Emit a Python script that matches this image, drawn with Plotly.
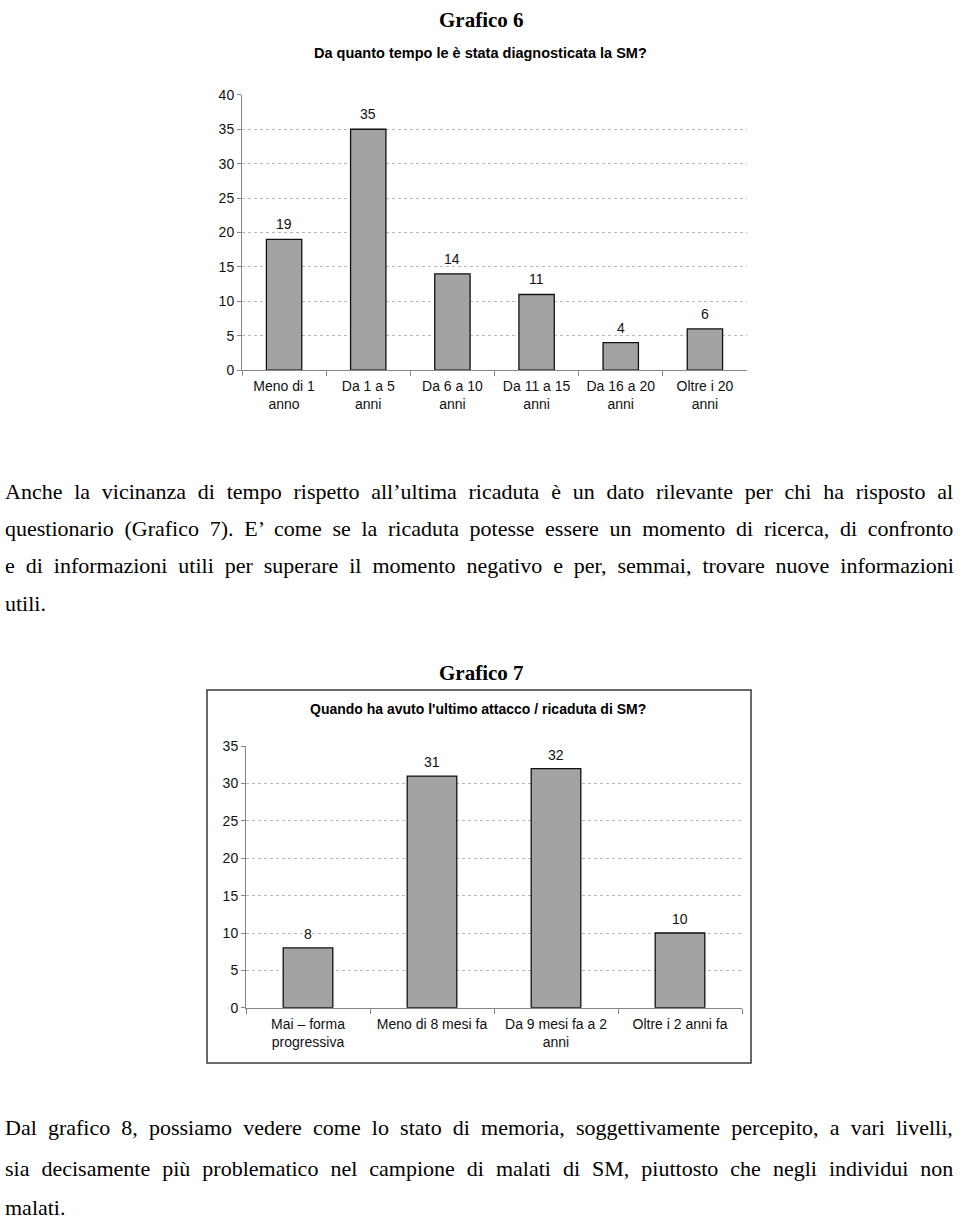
import plotly.graph_objects as go

W, H = 960, 1223

# ---- data ----
cat6 = ["Meno di 1<br>anno", "Da 1 a 5<br>anni", "Da 6 a 10<br>anni",
        "Da 11 a 15<br>anni", "Da 16 a 20<br>anni", "Oltre i 20<br>anni"]
val6 = [19, 35, 14, 11, 4, 6]

cat7 = ["Mai – forma<br>progressiva", "Meno di 8 mesi fa",
        "Da 9 mesi fa a 2<br>anni", "Oltre i 2 anni fa"]
val7 = [8, 31, 32, 10]

para1 = [
    "Anche la vicinanza di tempo rispetto all’ultima ricaduta è un dato rilevante per chi ha risposto al",
    "questionario (Grafico 7). E’ come se la ricaduta potesse essere un momento di ricerca, di confronto",
    "e di informazioni utili per superare il momento negativo e per, semmai, trovare nuove informazioni",
    "utili.",
]
para2 = [
    "Dal grafico 8, possiamo vedere come lo stato di memoria, soggettivamente percepito, a vari livelli,",
    "sia decisamente più problematico nel campione di malati di SM, piuttosto che negli individui non",
    "malati.",
]
# extra pixels needed to justify each line (style only)
just1 = [100, 78, 76, 0]
just2 = [79, 91, 0]


def justify(line, extra):
    """Spread `extra` px evenly over the word gaps using a sized no-break space
    (a space is 0.25 em wide in a Times-metric font)."""
    words = line.split(" ")
    gaps = len(words) - 1
    if gaps <= 0 or extra <= 0:
        return line
    per_gap = extra / gaps
    fs = per_gap * 4.0
    pad = '<span style="font-size:%.2fpx">\u00a0</span>' % fs
    return (" " + pad).join(words)


def px_x(p):
    return p / W


def px_y(p):
    return 1 - p / H


BAR = "#a3a3a3"
AX = "#868686"
GRID = "#b8b8b8"
SANS = "Liberation Sans, Arial, sans-serif"
SERIF = "Liberation Serif, Times New Roman, serif"
TF = 14

fig = go.Figure()
fig.add_trace(go.Bar(x=cat6, y=val6, xaxis="x", yaxis="y", width=0.42,
                     marker=dict(color=BAR, line=dict(color="#111", width=1.3)),
                     hoverinfo="skip"))
fig.add_trace(go.Bar(x=cat7, y=val7, xaxis="x2", yaxis="y2", width=0.40,
                     marker=dict(color=BAR, line=dict(color="#111", width=1.3)),
                     hoverinfo="skip"))

xcommon = dict(showgrid=False, showline=True, linecolor=AX, linewidth=1,
               ticks="outside", tickson="boundaries", ticklen=5, tickcolor=AX,
               ticklabelstandoff=3,
               tickfont=dict(family=SANS, size=TF, color="#111"), fixedrange=True)
ycommon = dict(showgrid=True, gridcolor=GRID, griddash="dot", gridwidth=1,
               showline=True, linecolor=AX, linewidth=1, ticks="outside",
               ticklen=4, tickcolor=AX, zeroline=False, dtick=5,
               tickfont=dict(family=SANS, size=TF, color="#111"), fixedrange=True)

fig.update_layout(
    width=W, height=H, margin=dict(l=0, r=0, t=0, b=0),
    paper_bgcolor="white", plot_bgcolor="white", showlegend=False,
    xaxis=dict(domain=[px_x(242), px_x(747)], anchor="y", **xcommon),
    yaxis=dict(domain=[px_y(367), px_y(88)], range=[0, 40], anchor="x", **ycommon),
    xaxis2=dict(domain=[px_x(246), px_x(742)], anchor="y2", **xcommon),
    yaxis2=dict(domain=[px_y(1013), px_y(748)], range=[0, 35], anchor="x2", **ycommon),
)

ann = []
# value labels
for c, v in zip(cat6, val6):
    ann.append(dict(x=c, y=v, xref="x", yref="y", text=str(v), showarrow=False,
                    yanchor="bottom", yshift=5, font=dict(family=SANS, size=TF, color="#111")))
for c, v in zip(cat7, val7):
    ann.append(dict(x=c, y=v, xref="x2", yref="y2", text=str(v), showarrow=False,
                    yanchor="bottom", yshift=4, font=dict(family=SANS, size=TF, color="#111")))

# titles
ann.append(dict(x=px_x(481), y=px_y(12), xref="paper", yref="paper", text="<b>Grafico 6</b>",
                showarrow=False, yanchor="middle", font=dict(family=SERIF, size=21, color="#000")))
ann.append(dict(x=px_x(480), y=px_y(46), xref="paper", yref="paper",
                text="<b>Da quanto tempo le è stata diagnosticata la SM?</b>",
                showarrow=False, yanchor="middle", font=dict(family=SANS, size=14.5, color="#000")))
ann.append(dict(x=px_x(481), y=px_y(674), xref="paper", yref="paper", text="<b>Grafico 7</b>",
                showarrow=False, yanchor="middle", font=dict(family=SERIF, size=21, color="#000")))
ann.append(dict(x=px_x(478), y=px_y(710), xref="paper", yref="paper",
                text="<b>Quando ha avuto l'ultimo attacco / ricaduta di SM?</b>",
                showarrow=False, yanchor="middle", font=dict(family=SANS, size=14, color="#000")))

# paragraphs
for i, line in enumerate(para1):
    ann.append(dict(x=px_x(3), y=px_y(489 + 38 * i), xref="paper", yref="paper",
                    text=justify(line, just1[i]),
                    showarrow=False, xanchor="left", yanchor="middle",
                    font=dict(family=SERIF, size=22, color="#000")))
for i, line in enumerate(para2):
    ann.append(dict(x=px_x(3), y=px_y(1134 + 40.5 * i), xref="paper", yref="paper",
                    text=justify(line, just2[i]),
                    showarrow=False, xanchor="left", yanchor="middle",
                    font=dict(family=SERIF, size=22, color="#000")))

fig.update_layout(annotations=ann)
fig.add_shape(type="rect", xref="paper", yref="paper",
              x0=px_x(207), x1=px_x(751), y0=px_y(1069), y1=px_y(691),
              line=dict(color="#3a3a3a", width=1.5), fillcolor="rgba(0,0,0,0)")

fig.write_html("out.html")
